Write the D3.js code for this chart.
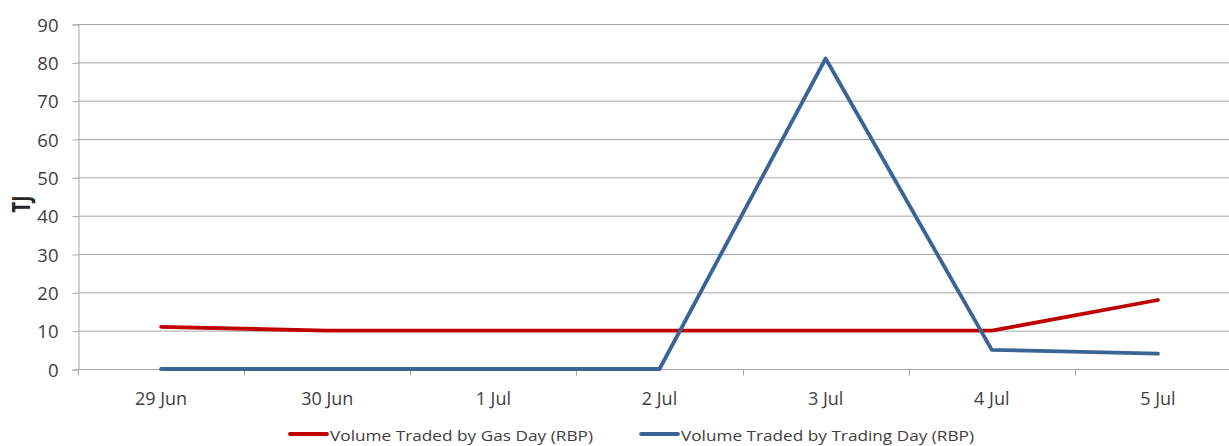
<!DOCTYPE html>
<html>
<head>
<meta charset="utf-8">
<script src="https://cdn.jsdelivr.net/npm/d3@7"></script>
<style>
  body { margin: 0; background: #fff; }
  svg { display: block; font-family: "Open Sans", "Noto Sans", sans-serif; }
</style>
</head>
<body>
<svg id="chart" width="1229" height="446"></svg>
<script>
// Daily traded volumes (TJ)
const categories = ["29 Jun", "30 Jun", "1 Jul", "2 Jul", "3 Jul", "4 Jul", "5 Jul"];
const gasDay = [11, 10, 10, 10, 10, 10, 18];
const tradingDay = [0, 0, 0, 0, 81, 5, 4];
const yTicks = [0, 10, 20, 30, 40, 50, 60, 70, 80, 90];
const seriesNames = ["Volume Traded by Gas Day (RBP)", "Volume Traded by Trading Day (RBP)"];
const seriesColors = ["#C00000", "#3A6495"];

const svg = d3.select("#chart");
const plot = { left: 78, right: 1241, top: 24, bottom: 369 };

const x = d3.scaleBand().domain(categories).range([plot.left, plot.right]);
const y = d3.scaleLinear().domain([0, 90]).range([plot.bottom, plot.top]);

// horizontal gridlines
svg.append("g")
  .selectAll("line")
  .data(yTicks)
  .join("line")
  .attr("x1", plot.left).attr("x2", plot.right)
  .attr("y1", d => y(d) + 0.5).attr("y2", d => y(d) + 0.5)
  .attr("stroke", "#a6a6a6").attr("stroke-width", 1);

// y axis
const yAxis = svg.append("g")
  .attr("transform", `translate(${plot.left + 0.5},0.5)`)
  .call(d3.axisLeft(y).tickValues(yTicks).tickSize(6).tickPadding(14));
yAxis.select(".domain").attr("stroke", "#a6a6a6");
yAxis.selectAll(".tick line").attr("stroke", "#a6a6a6");
yAxis.selectAll("text").attr("font-size", 18.5).attr("fill", "#404040")
  .attr("font-family", "Open Sans, sans-serif").attr("dy", "0.36em");

// x axis with tick marks at category boundaries
const xAxis = svg.append("g").attr("transform", `translate(0,${plot.bottom + 0.5})`);
xAxis.append("line").attr("x1", plot.left).attr("x2", plot.right).attr("stroke", "#a6a6a6");
const bounds = categories.map(c => x(c)).concat([x(categories[categories.length - 1]) + x.bandwidth()]);
xAxis.selectAll(".tk").data(bounds).join("line").attr("class", "tk")
  .attr("x1", d => Math.round(d) + 0.5).attr("x2", d => Math.round(d) + 0.5)
  .attr("y1", 0).attr("y2", 6).attr("stroke", "#a6a6a6");
xAxis.selectAll("text").data(categories).join("text")
  .attr("x", d => x(d) + x.bandwidth() / 2)
  .attr("y", 35)
  .attr("text-anchor", "middle")
  .attr("font-size", 18).attr("fill", "#404040")
  .text(d => d);

// y axis title
svg.append("text")
  .attr("transform", "translate(30,204) rotate(-90) scale(1,1.35)")
  .attr("text-anchor", "middle")
  .attr("font-size", 19).attr("font-weight", "bold").attr("fill", "#262626")
  .text("TJ");

// series lines
const line = d3.line()
  .x((d, i) => x(categories[i]) + x.bandwidth() / 2)
  .y(d => y(d));

[gasDay, tradingDay].forEach((vals, k) => {
  svg.append("path")
    .datum(vals)
    .attr("d", line)
    .attr("fill", "none")
    .attr("stroke", seriesColors[k])
    .attr("stroke-width", 3.8)
    .attr("stroke-linejoin", "round")
    .attr("stroke-linecap", "round");
});

// legend
const legendItems = [{ x: 290, i: 0, w: 263 }, { x: 641, i: 1, w: 293 }];
legendItems.forEach(({ x: lx, i, w }) => {
  const g = svg.append("g").attr("transform", `translate(${lx},434)`);
  g.append("line").attr("x1", 0).attr("x2", 37).attr("y1", 0).attr("y2", 0)
    .attr("stroke", seriesColors[i]).attr("stroke-width", 3.8).attr("stroke-linecap", "round");
  g.append("text").attr("x", 40).attr("y", 7)
    .attr("font-size", 14.5).attr("fill", "#404040")
    .attr("textLength", w).attr("lengthAdjust", "spacingAndGlyphs")
    .text(seriesNames[i]);
});
</script>
</body>
</html>
